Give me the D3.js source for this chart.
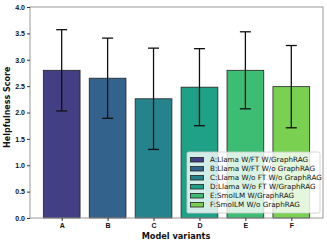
<!DOCTYPE html>
<html>
  <head>
    <meta charset="utf-8">
    <title>Helpfulness score by model variant</title>
    <script src="https://cdn.jsdelivr.net/npm/d3@7"></script>
    <style>
      body { margin: 0; background: #fff; }
      svg { font-family: "DejaVu Sans", sans-serif; }
      .tick text { font-size: 7px; font-weight: bold; fill: #111; }
      .axisTitle { font-weight: bold; fill: #111; }
      .legend text { font-size: 7.2px; fill: #111; }
    </style>
  </head>
  <body>
    <svg id="chart" width="327" height="243"></svg>
    <script>
      // data
      categories = ["A", "B", "C", "D", "E", "F"];
      legendLabels = [
        "A:Llama W/FT W/GraphRAG",
        "B:Llama W/FT W/o GraphRAG",
        "C:Llama W/o FT W/o GraphRAG",
        "D:Llama W/o FT W/GraphRAG",
        "E:SmolLM W/GraphRAG",
        "F:SmolLM W/o GraphRAG"
      ];
      scores = [2.80, 2.65, 2.26, 2.48, 2.80, 2.49];
      errors = [0.77, 0.76, 0.96, 0.73, 0.73, 0.78];
      yTicks = [0, 0.5, 1, 1.5, 2, 2.5, 3, 3.5, 4];
      colours = ["#433f85", "#33638d", "#25838e", "#1fa187", "#3dbc74", "#7ad151"];

      chart = d3.select("#chart");
      margin = { top: 7, right: 4, bottom: 25, left: 30 };
      width = 327;
      height = 243;

      x = d3.scaleLinear()
        .domain([-0.69, 5.69])
        .range([margin.left, width - margin.right]);
      y = d3.scaleLinear()
        .domain([0, 4])
        .range([height - margin.bottom, margin.top]);
      barWidth = x(0.8) - x(0);

      // bars
      chart.append("g")
        .selectAll("rect")
        .data(scores)
        .join("rect")
          .attr("x", function(d, i) { return x(i) - barWidth / 2; })
          .attr("y", function(d) { return y(d); })
          .attr("width", barWidth)
          .attr("height", function(d) { return y(0) - y(d); })
          .attr("fill", function(d, i) { return colours[i]; })
          .attr("stroke", "#222")
          .attr("stroke-width", 0.8);

      // error bars
      errGroup = chart.append("g")
        .attr("stroke", "#111")
        .attr("stroke-width", 1.3);
      scores.forEach(function(d, i) {
        var cx = x(i);
        errGroup.append("line")
          .attr("x1", cx).attr("x2", cx)
          .attr("y1", y(d - errors[i])).attr("y2", y(d + errors[i]));
        [d - errors[i], d + errors[i]].forEach(function(v) {
          errGroup.append("line")
            .attr("x1", cx - 5.5).attr("x2", cx + 5.5)
            .attr("y1", y(v)).attr("y2", y(v));
        });
      });

      // frame
      chart.append("rect")
        .attr("x", margin.left)
        .attr("y", margin.top)
        .attr("width", width - margin.left - margin.right)
        .attr("height", height - margin.top - margin.bottom)
        .attr("fill", "none")
        .attr("stroke", "#999")
        .attr("stroke-width", 1);

      // axes
      chart.append("g")
        .attr("transform", "translate(" + margin.left + ",0)")
        .call(d3.axisLeft(y)
          .tickValues(yTicks)
          .tickFormat(d3.format(".1f"))
          .tickSize(3)
          .tickPadding(2))
        .call(function(g) { g.select(".domain").remove(); })
        .call(function(g) { g.selectAll(".tick line").attr("stroke", "#333"); });
      chart.append("g")
        .attr("transform", "translate(0," + (height - margin.bottom) + ")")
        .call(d3.axisBottom(x)
          .tickValues(d3.range(categories.length))
          .tickFormat(function(d) { return categories[d]; })
          .tickSize(3)
          .tickPadding(2))
        .call(function(g) { g.select(".domain").remove(); })
        .call(function(g) { g.selectAll(".tick line").attr("stroke", "#333"); });

      chart.append("text")
        .attr("class", "axisTitle")
        .attr("x", 176)
        .attr("y", 239)
        .attr("text-anchor", "middle")
        .attr("font-size", 8.2)
        .text("Model variants");
      chart.append("text")
        .attr("class", "axisTitle")
        .attr("transform", "translate(9.5," + y(2.1) + ") rotate(-90)")
        .attr("text-anchor", "middle")
        .attr("font-size", 8)
        .text("Helpfulness Score");

      // legend
      legend = chart.append("g")
        .attr("class", "legend")
        .attr("transform", "translate(187,152)");
      legend.append("rect")
        .attr("width", 133)
        .attr("height", 61)
        .attr("rx", 1.5)
        .attr("fill", "#fff")
        .attr("fill-opacity", 0.8)
        .attr("stroke", "#ccc")
        .attr("stroke-width", 0.8);
      legendLabels.forEach(function(label, i) {
        var row = legend.append("g")
          .attr("transform", "translate(0," + (5 + i * 9) + ")");
        row.append("rect")
          .attr("x", 3.5)
          .attr("y", 0.5)
          .attr("width", 13)
          .attr("height", 4.5)
          .attr("fill", colours[i])
          .attr("stroke", "#222")
          .attr("stroke-width", 0.8);
        row.append("text")
          .attr("x", 23)
          .attr("y", 5.2)
          .text(label);
      });
    </script>
  </body>
</html>
